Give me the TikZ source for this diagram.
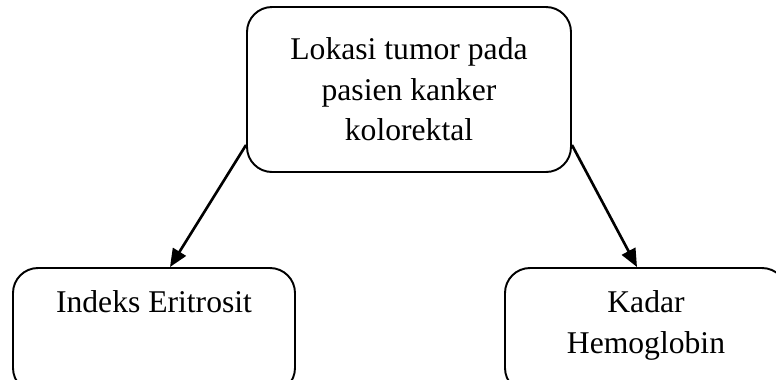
\documentclass[tikz,border=0pt]{standalone}
\usepackage{fontspec}
\setmainfont{Liberation Serif}
\usetikzlibrary{arrows.meta}
\usetikzlibrary{calc}
\usetikzlibrary{positioning}

\tikzset{
    kotak/.style={draw, rounded corners=0.5cm, line width=1.1pt, inner sep=0},
    tulisan/.style={inner sep=0, align=center, font=\fontsize{18pt}{23pt}\selectfont},
    panah/.style={line width=1.5pt, -{Triangle[length=0.36cm,width=0.3cm]}}
}

\begin{document}
\begin{tikzpicture}
    \useasboundingbox (0,0) rectangle (15.52,-7.58);

    \node[kotak, tulisan, minimum width=6.48cm, minimum height=3.3cm] (lokasi) at (8.18,-1.79) {Lokasi tumor pada\\pasien kanker\\kolorektal};
    \node[kotak, minimum width=5.64cm, minimum height=2.5cm] (eri) at (3.08,-6.61) {};
    \node[kotak, minimum width=5.64cm, minimum height=2.5cm] (hb) at (12.92,-6.61) {};

    \node[tulisan, below=0.47cm of eri.north] (erilbl) {Indeks Eritrosit};
    \node[tulisan, below=0.47cm of hb.north] (hblbl) {Kadar\\Hemoglobin};

    \draw[panah] ($(lokasi.south west)+(0,0.56)$) -- ($(eri.north)+(0.32,0)$);
    \draw[panah] ($(lokasi.south east)+(0,0.56)$) -- ($(hb.north)+(-0.18,0)$);
\end{tikzpicture}
\end{document}
